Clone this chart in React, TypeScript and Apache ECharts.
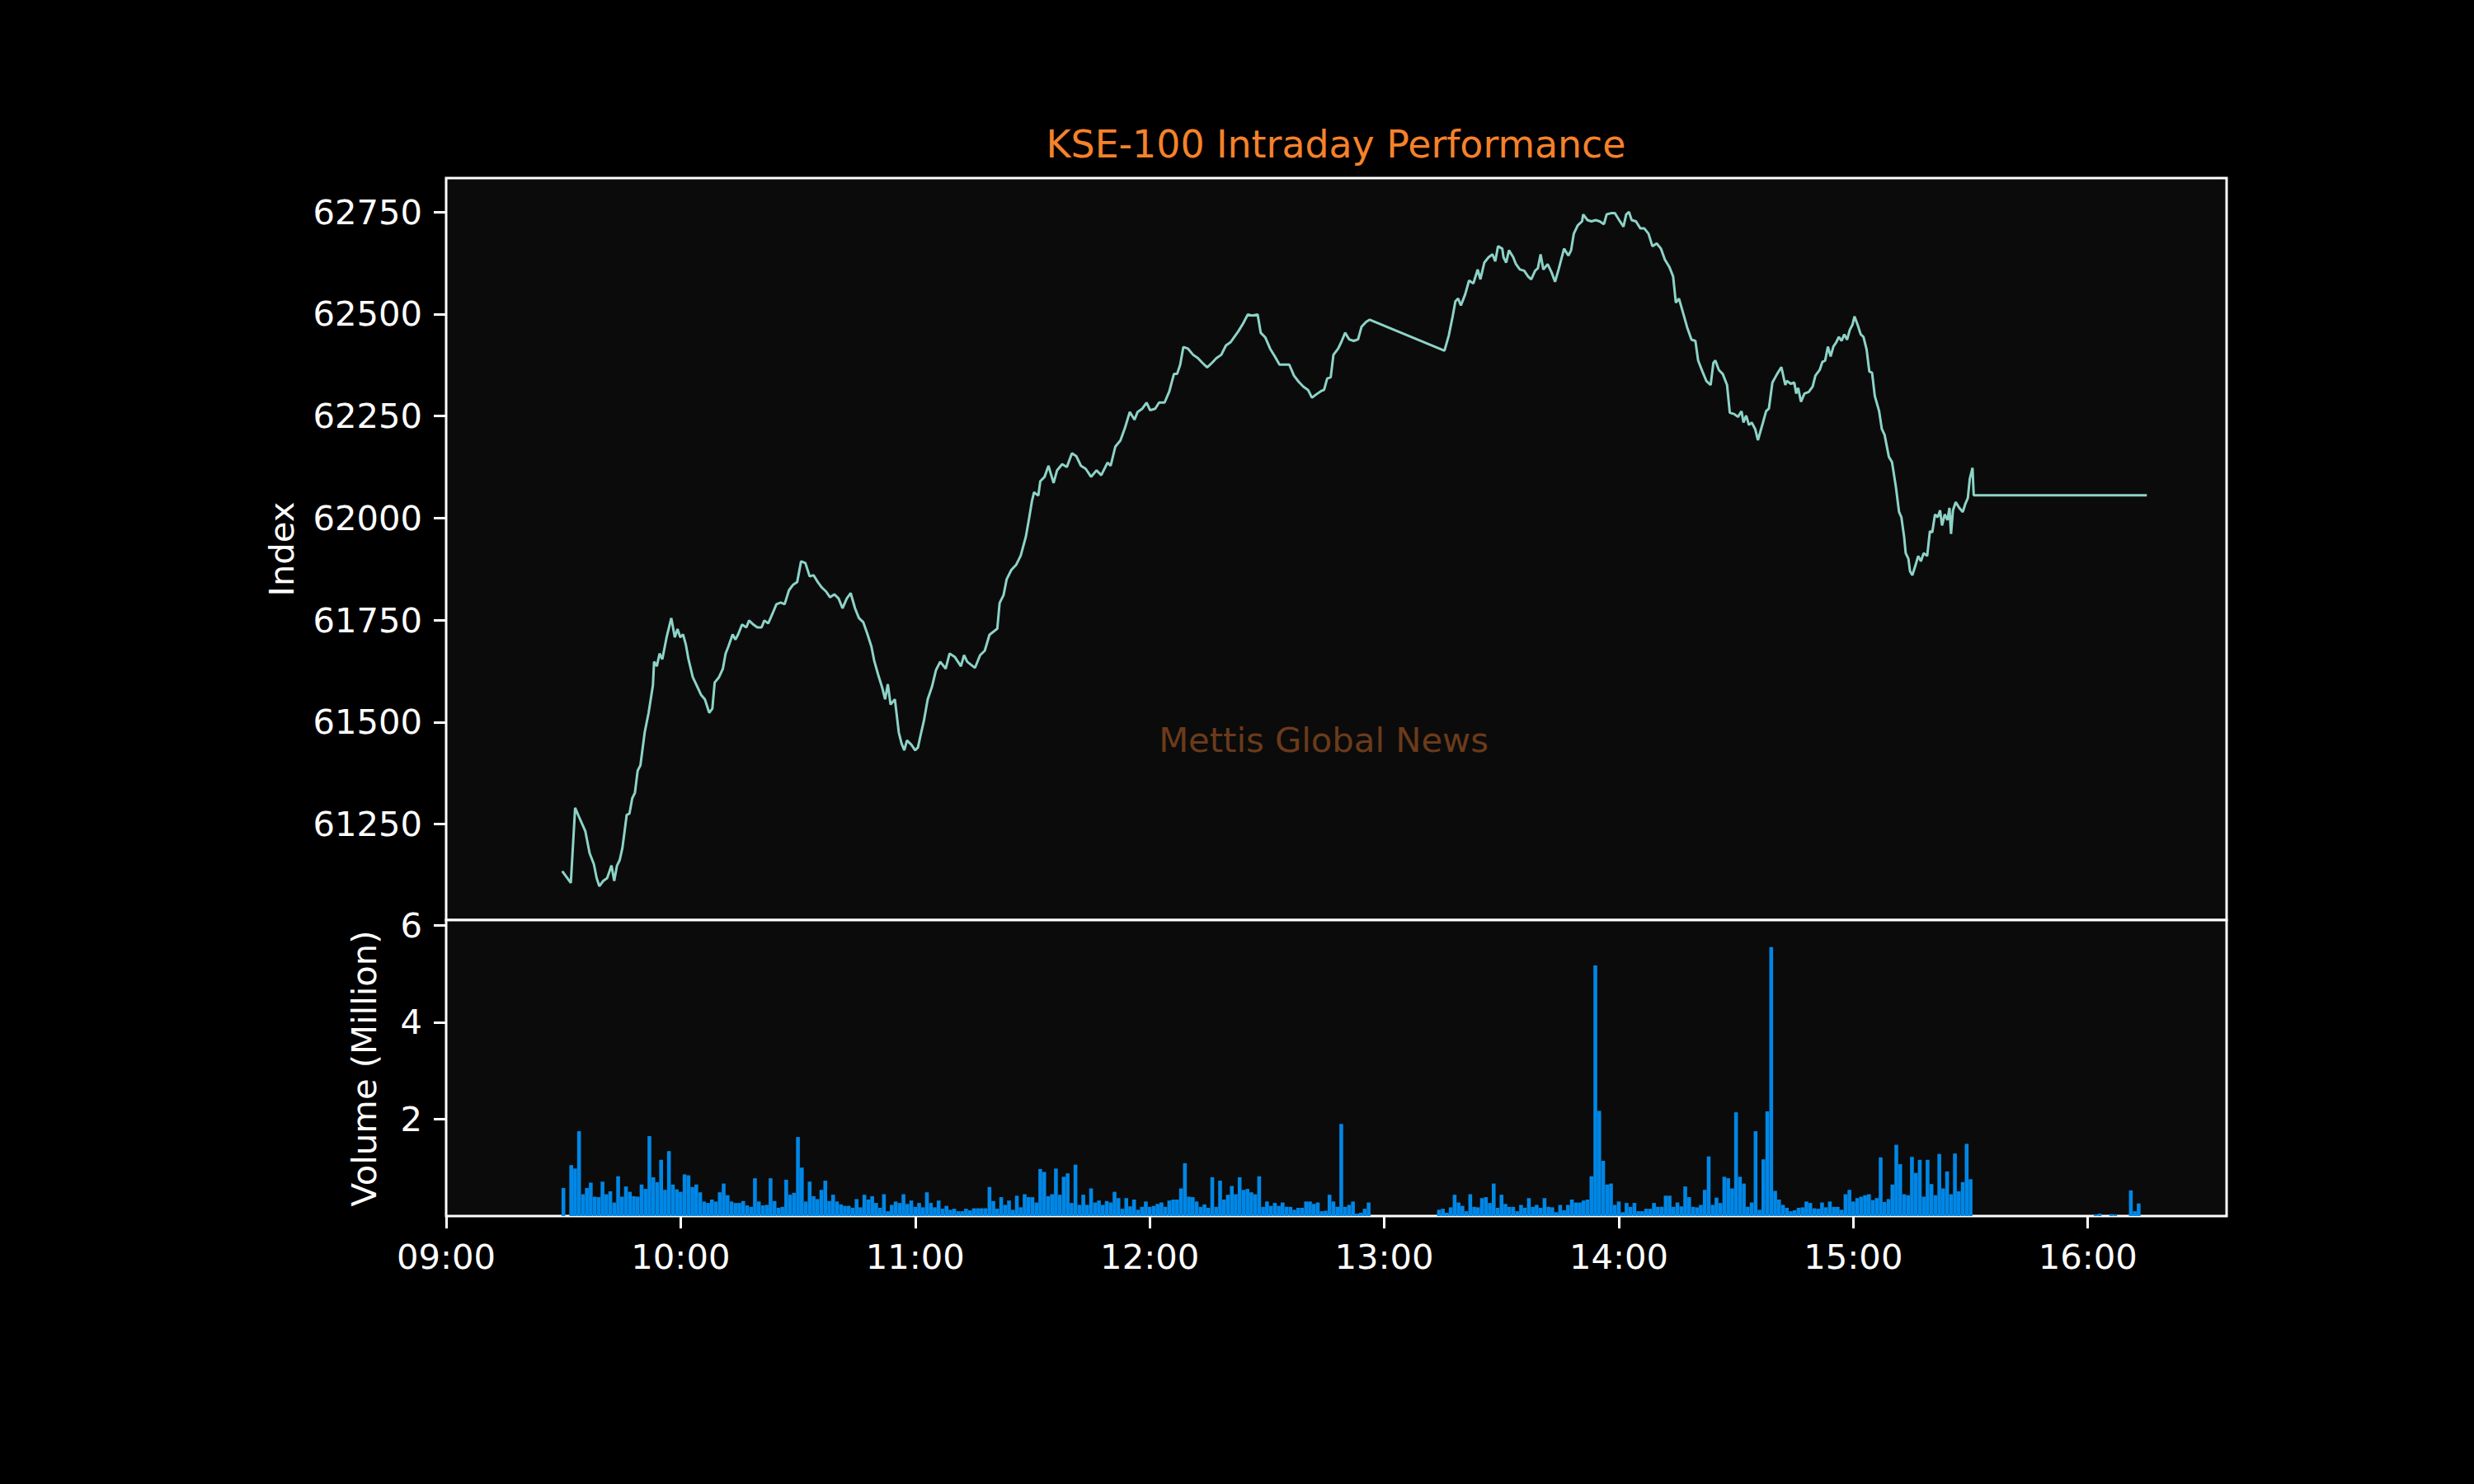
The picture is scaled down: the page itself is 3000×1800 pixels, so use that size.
import React, { useEffect, useRef } from "react";
import * as echarts from "echarts";

// Minutes after 09:00 and KSE-100 index level
const indexMinutes = [
  29.7, 31.9, 33.0, 33.9, 35.0, 35.6, 36.7, 37.8, 38.5, 39.2, 40.2, 41.2, 42.3, 43.0, 43.7, 44.4, 45.1, 46.2, 46.9, 47.6,
  48.3, 49.0, 49.7, 50.8, 51.8, 52.9, 53.2, 53.9, 54.6, 55.3, 56.4, 57.6, 58.5, 59.2, 59.9, 60.6, 61.3, 62.0, 63.1, 64.1,
  65.2, 66.2, 67.3, 68.1, 68.7, 69.8, 70.8, 71.5, 72.2, 73.3, 74.0, 74.7, 75.7, 76.8, 77.5, 78.6, 79.6, 80.7, 81.4, 82.4,
  83.5, 84.5, 85.6, 86.6, 87.7, 88.7, 89.8, 90.8, 91.9, 93.0, 94.0, 95.1, 96.1, 97.2, 98.2, 99.3, 100.4, 101.4, 102.5, 103.5,
  104.6, 105.6, 106.7, 107.7, 108.8, 109.5, 110.5, 111.6, 112.3, 113.0, 113.7, 114.8, 115.8, 116.5, 117.2, 117.9, 119.0, 120.0, 120.7, 121.4,
  122.2, 123.2, 124.3, 125.3, 126.4, 127.8, 128.8, 130.1, 131.7, 132.5, 133.3, 135.3, 136.6, 137.8, 139.0, 141.0, 141.6, 142.6, 143.4, 144.6,
  145.8, 147.0, 148.3, 149.1, 149.9, 150.4, 151.5, 152.0, 153.1, 154.1, 155.4, 156.3, 157.6, 158.8, 160.1, 161.2, 162.4, 163.6, 165.0, 166.4,
  167.6, 169.2, 170.0, 171.2, 172.5, 173.7, 174.9, 176.1, 176.9, 178.1, 179.2, 180.1, 181.4, 182.4, 183.8, 185.0, 186.2, 187.0, 187.8, 188.6,
  189.8, 191.1, 192.3, 193.5, 194.7, 195.9, 197.1, 198.3, 199.5, 200.7, 201.5, 202.7, 203.9, 205.1, 206.3, 207.6, 208.4, 209.6, 210.8, 212.0,
  213.2, 214.4, 215.7, 216.9, 218.1, 219.3, 220.5, 221.5, 222.6, 223.8, 224.6, 225.4, 226.3, 227.0, 228.2, 229.0, 230.0, 231.0, 232.2, 233.3,
  234.2, 235.4, 236.3, 255.4, 256.5, 257.5, 258.2, 258.9, 259.6, 260.7, 261.7, 262.8, 263.9, 264.6, 265.6, 266.7, 267.7, 268.4, 269.1, 270.2,
  270.5, 271.2, 271.9, 273.0, 273.7, 274.7, 275.8, 276.8, 277.6, 278.6, 279.3, 280.0, 280.7, 281.8, 282.8, 283.7, 284.6, 286.0, 287.1, 287.8,
  288.5, 289.5, 290.6, 290.9, 292.0, 293.0, 294.1, 295.1, 296.2, 296.9, 298.0, 299.0, 300.1, 301.2, 301.9, 302.6, 303.3, 304.4, 305.5, 306.5,
  307.6, 308.6, 309.7, 310.8, 311.8, 312.9, 313.9, 314.6, 315.4, 316.5, 317.5, 318.6, 319.6, 320.3, 321.4, 322.4, 323.5, 324.2, 324.7, 325.6,
  326.6, 327.7, 328.4, 329.5, 330.5, 331.4, 331.9, 332.6, 333.3, 334.0, 334.9, 335.6, 336.8, 337.7, 338.4, 339.3, 340.5, 341.6, 342.6, 343.0,
  344.0, 344.9, 345.4, 345.9, 346.6, 347.5, 348.6, 349.6, 350.3, 351.4, 352.1, 352.8, 353.5, 354.2, 354.9, 355.6, 356.3, 357.0, 357.7, 358.4,
  359.1, 359.8, 360.3, 361.2, 361.9, 362.6, 363.4, 364.1, 364.8, 365.5, 366.6, 367.3, 368.0, 369.1, 369.9, 370.9, 371.7, 372.3, 373.0, 373.4,
  374.1, 374.5, 375.1, 375.9, 376.6, 377.3, 378.0, 378.9, 379.6, 380.2, 380.9, 381.6, 382.2, 382.7, 383.4, 384.1, 384.6, 385.0, 385.5, 386.2,
  387.1, 388.0, 388.7, 389.3, 389.8, 390.5, 390.8, 435.1,
];
const indexValues = [
  61135, 61106, 61290, 61270, 61246, 61233, 61179, 61152, 61118, 61098, 61111, 61118, 61149, 61111, 61148, 61162, 61192, 61273, 61276, 61313,
  61327, 61381, 61394, 61475, 61523, 61590, 61648, 61637, 61668, 61654, 61708, 61755, 61708, 61728, 61708, 61715, 61691, 61654, 61610, 61590,
  61567, 61556, 61523, 61533, 61597, 61610, 61631, 61668, 61685, 61715, 61702, 61715, 61739, 61732, 61749, 61739, 61732, 61732, 61749, 61742,
  61766, 61789, 61793, 61789, 61823, 61836, 61843, 61894, 61890, 61857, 61860, 61843, 61830, 61820, 61806, 61813, 61803, 61779, 61803, 61816,
  61779, 61755, 61745, 61718, 61685, 61651, 61617, 61583, 61556, 61593, 61543, 61556, 61475, 61448, 61431, 61455, 61445, 61431, 61438, 61469,
  61502, 61556, 61587, 61627, 61648, 61631, 61668, 61660, 61637, 61664, 61648, 61633, 61664, 61675, 61714, 61729, 61792, 61811, 61850, 61873,
  61885, 61908, 61954, 61997, 62043, 62063, 62055, 62090, 62101, 62128, 62086, 62117, 62132, 62125, 62159, 62152, 62128, 62121, 62101, 62117,
  62105, 62136, 62128, 62175, 62190, 62222, 62260, 62241, 62260, 62268, 62283, 62264, 62268, 62283, 62283, 62310, 62353, 62353, 62376, 62419,
  62415, 62400, 62392, 62380, 62369, 62380, 62392, 62400, 62423, 62431, 62442, 62458, 62477, 62499, 62496, 62499, 62454, 62442, 62415, 62396,
  62376, 62376, 62376, 62349, 62334, 62322, 62314, 62295, 62303, 62311, 62314, 62342, 62345, 62400, 62415, 62431, 62454, 62438, 62434, 62438,
  62469, 62481, 62486, 62410, 62447, 62494, 62531, 62538, 62521, 62548, 62582, 62575, 62609, 62585, 62626, 62639, 62646, 62629, 62666, 62660,
  62639, 62626, 62656, 62639, 62622, 62609, 62606, 62592, 62585, 62606, 62612, 62646, 62609, 62622, 62602, 62579, 62609, 62660, 62643, 62656,
  62697, 62717, 62727, 62744, 62730, 62727, 62730, 62727, 62720, 62744, 62747, 62747, 62730, 62714, 62744, 62750, 62730, 62727, 62710, 62710,
  62697, 62666, 62673, 62660, 62633, 62616, 62592, 62528, 62538, 62501, 62467, 62437, 62434, 62386, 62359, 62336, 62326, 62380, 62386, 62363,
  62353, 62326, 62258, 62255, 62248, 62262, 62234, 62251, 62228, 62234, 62218, 62191, 62231, 62262, 62268, 62332, 62353, 62370, 62326, 62336,
  62329, 62332, 62305, 62319, 62285, 62305, 62309, 62322, 62349, 62363, 62383, 62386, 62420, 62396, 62420, 62430, 62444, 62434, 62450, 62437,
  62461, 62474, 62494, 62471, 62450, 62444, 62413, 62359, 62356, 62299, 62262, 62218, 62204, 62150, 62137, 62076, 62015, 62002, 61954, 61914,
  61900, 61870, 61860, 61884, 61907, 61894, 61914, 61907, 61968, 61965, 62009, 62002, 62019, 61982, 62009, 61995, 62025, 61961, 62019, 62039,
  62025, 62015, 62036, 62049, 62096, 62123, 62056, 62056,
];

// Volume (million), one bar per minute
const volumeMorningStart = 30; // 09:30
const volumeMorning = [
  0.58, 0, 1.05, 0.98, 1.75, 0.45, 0.58, 0.69, 0.40, 0.39, 0.71, 0.45, 0.51, 0.28, 0.82, 0.40, 0.61, 0.50, 0.41, 0.40,
  0.65, 0.56, 1.65, 0.80, 0.70, 1.16, 0.54, 1.34, 0.65, 0.55, 0.50, 0.86, 0.84, 0.60, 0.65, 0.49, 0.30, 0.27, 0.34, 0.30,
  0.49, 0.67, 0.43, 0.30, 0.27, 0.27, 0.31, 0.22, 0.19, 0.78, 0.30, 0.22, 0.23, 0.78, 0.31, 0.17, 0.19, 0.75, 0.44, 0.48,
  1.63, 1.00, 0.30, 0.71, 0.41, 0.35, 0.54, 0.73, 0.31, 0.44, 0.30, 0.24, 0.21, 0.21, 0.17, 0.35, 0.18, 0.44, 0.34, 0.41,
  0.27, 0.17, 0.45, 0.10, 0.23, 0.30, 0.27, 0.45, 0.25, 0.32, 0.19, 0.27, 0.18, 0.49, 0.27, 0.18, 0.32, 0.15, 0.21, 0.13,
  0.15, 0.10, 0.10, 0.15, 0.12, 0.16, 0.16, 0.16, 0.16, 0.60, 0.31, 0.15, 0.39, 0.23, 0.32, 0.13, 0.42, 0.18, 0.45, 0.39,
  0.39, 0.28, 0.97, 0.91, 0.41, 0.45, 0.98, 0.44, 0.81, 0.88, 0.27, 1.06, 0.23, 0.44, 0.23, 0.57, 0.28, 0.32, 0.23, 0.31,
  0.28, 0.50, 0.37, 0.15, 0.37, 0.20, 0.34, 0.13, 0.19, 0.30, 0.19, 0.21, 0.25, 0.28, 0.19, 0.32, 0.34, 0.34, 0.57, 1.09,
  0.40, 0.39, 0.30, 0.19, 0.24, 0.17, 0.80, 0.19, 0.73, 0.34, 0.44, 0.62, 0.45, 0.80, 0.54, 0.56, 0.49, 0.45, 0.82, 0.19,
  0.30, 0.21, 0.27, 0.21, 0.28, 0.19, 0.19, 0.13, 0.17, 0.17, 0.30, 0.30, 0.25, 0.28, 0.10, 0.11, 0.44, 0.30, 0.19, 1.90,
  0.19, 0.23, 0.30, 0.05, 0.07, 0.15, 0.28,
];
const volumeAfternoonStart = 254; // 13:14
const volumeAfternoon = [
  0.13, 0.15, 0.07, 0.18, 0.44, 0.28, 0.21, 0.10, 0.45, 0.19, 0.18, 0.37, 0.39, 0.27, 0.67, 0.17, 0.44, 0.25, 0.19, 0.19,
  0.10, 0.23, 0.17, 0.37, 0.19, 0.23, 0.17, 0.37, 0.19, 0.18, 0.08, 0.23, 0.12, 0.23, 0.34, 0.28, 0.28, 0.32, 0.34, 0.82,
  5.17, 2.17, 1.14, 0.65, 0.67, 0.23, 0.30, 0.08, 0.27, 0.19, 0.27, 0.10, 0.10, 0.15, 0.15, 0.27, 0.19, 0.19, 0.42, 0.42,
  0.19, 0.28, 0.20, 0.61, 0.39, 0.19, 0.18, 0.23, 0.54, 1.23, 0.23, 0.38, 0.27, 0.81, 0.78, 0.57, 2.14, 0.81, 0.67, 0.19,
  0.28, 1.75, 0.13, 1.17, 2.16, 5.55, 0.52, 0.34, 0.23, 0.17, 0.10, 0.12, 0.17, 0.18, 0.30, 0.27, 0.16, 0.15, 0.28, 0.18,
  0.30, 0.19, 0.19, 0.13, 0.45, 0.54, 0.30, 0.37, 0.40, 0.43, 0.45, 0.33, 0.37, 1.21, 0.29, 0.35, 0.65, 1.47, 1.07, 0.45,
  0.43, 1.22, 0.89, 1.16, 0.40, 1.16, 0.66, 0.43, 1.28, 0.57, 0.92, 0.45, 1.29, 0.51, 0.70, 1.49, 0.76,
];
const volumeLateMinutes = [422, 423, 426, 427, 431, 432, 433];
const volumeLate = [0.03, 0.05, 0.04, 0.03, 0.53, 0.10, 0.26];

const timeTicks = [0, 60, 120, 180, 240, 300, 360, 420];
const indexTicks = [61250, 61500, 61750, 62000, 62250, 62500, 62750];
const volumeTicks = [2, 4, 6];

const FONT = "DejaVu Sans";
const FS = 41.7;

function fmtTime(v: number): string {
  const h = 9 + Math.floor(v / 60);
  const m = Math.round(v % 60);
  return (h < 10 ? "0" : "") + h + ":" + (m < 10 ? "0" : "") + m;
}

export default function App() {
  const ref = useRef<HTMLDivElement>(null);

  useEffect(() => {
    document.body.style.margin = "0";
    if (!ref.current) return;
    const chart = echarts.init(ref.current, null, { renderer: "svg" });

    const lineData = indexMinutes.map((t, i) => [t, indexValues[i]]);
    const barData: number[][] = [];
    volumeMorning.forEach((v, i) => barData.push([volumeMorningStart + i, v]));
    volumeAfternoon.forEach((v, i) => barData.push([volumeAfternoonStart + i, v]));
    volumeLateMinutes.forEach((t, i) => barData.push([t, volumeLate[i]]));

    const axisLabelBase = { color: "#ffffff", fontFamily: FONT, fontSize: FS };
    const tickStyle = { show: true, length: 15, lineStyle: { color: "#ffffff", width: 3 } };

    chart.setOption({
      animation: false,
      backgroundColor: "#000000",
      textStyle: { fontFamily: FONT },
      grid: [
        { left: 541, top: 216, width: 2159, height: 900, show: true, backgroundColor: "#0b0b0b", borderColor: "#ffffff", borderWidth: 3, containLabel: false },
        { left: 541, top: 1116, width: 2159, height: 359, show: true, backgroundColor: "#0b0b0b", borderColor: "#ffffff", borderWidth: 3, containLabel: false },
      ],
      xAxis: [
        {
          type: "value", gridIndex: 0, min: 0, max: 455.5,
          axisLine: { show: false }, axisTick: { show: false }, axisLabel: { show: false }, splitLine: { show: false },
        },
        {
          type: "value", gridIndex: 1, min: 0, max: 455.5,
          axisLine: { show: false },
          axisTick: { ...tickStyle, customValues: timeTicks },
          axisLabel: { ...axisLabelBase, margin: 28, customValues: timeTicks, formatter: (v: number) => fmtTime(v) },
          splitLine: { show: false },
        },
      ],
      yAxis: [
        {
          type: "value", gridIndex: 0, min: 61015, max: 62833,
          axisLine: { show: false },
          axisTick: { ...tickStyle, customValues: indexTicks },
          axisLabel: { ...axisLabelBase, margin: 29, customValues: indexTicks, formatter: (v: number) => String(v) },
          splitLine: { show: false },
        },
        {
          type: "value", gridIndex: 1, min: 0, max: 6.105,
          axisLine: { show: false },
          axisTick: { ...tickStyle, customValues: volumeTicks },
          axisLabel: { ...axisLabelBase, margin: 29, customValues: volumeTicks, formatter: (v: number) => String(v) },
          splitLine: { show: false },
        },
      ],
      series: [
        {
          type: "line", xAxisIndex: 0, yAxisIndex: 0, data: lineData,
          showSymbol: false, symbol: "none",
          lineStyle: { color: "#8dd3c7", width: 3 },
          itemStyle: { color: "#8dd3c7" },
          z: 3,
        },
        {
          type: "bar", xAxisIndex: 1, yAxisIndex: 1, data: barData,
          barWidth: 4.6,
          itemStyle: { color: "#0087e6" },
          z: 3,
        },
      ],
      graphic: [
        {
          type: "text", x: 1620, y: 175, z: 10,
          style: { text: "KSE-100 Intraday Performance", fill: "#f5822a", font: `45.8px '${FONT}'`, textAlign: "center", textVerticalAlign: "middle" },
        },
        {
          type: "text", x: 1605, y: 897, z: 10,
          style: { text: "Mettis Global News", fill: "#6b3b1b", font: `41.7px '${FONT}'`, textAlign: "center", textVerticalAlign: "middle" },
        },
        {
          type: "text", x: 341, y: 666, rotation: Math.PI / 2, z: 10,
          style: { text: "Index", fill: "#ffffff", font: `${FS}px '${FONT}'`, textAlign: "center", textVerticalAlign: "middle" },
        },
        {
          type: "text", x: 441, y: 1296, rotation: Math.PI / 2, z: 10,
          style: { text: "Volume (Million)", fill: "#ffffff", font: `${FS}px '${FONT}'`, textAlign: "center", textVerticalAlign: "middle" },
        },
      ],
    });

    return () => {
      chart.dispose();
    };
  }, []);

  return (
    <div
      ref={ref}
      style={{ position: "fixed", left: 0, top: 0, width: 3000, height: 1800, background: "#000000" }}
    />
  );
}
